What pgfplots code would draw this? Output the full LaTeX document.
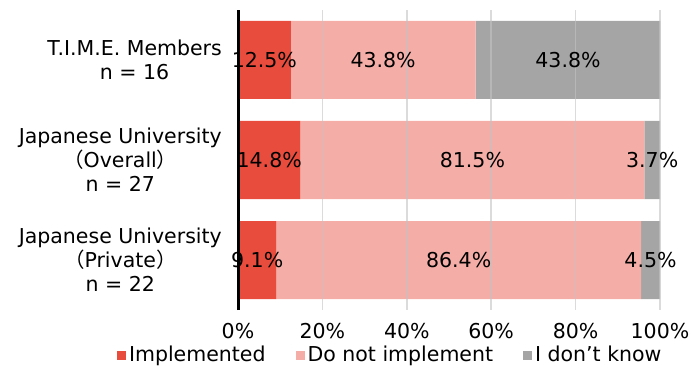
\documentclass[border=0pt]{standalone}
\usepackage{fontspec}
\setmainfont{DejaVu Sans}
\newfontfamily\cjk{Noto Sans CJK JP}
\usepackage{pgfplots}
\pgfplotsset{compat=1.18}
\usepackage{pgfplotstable}

\definecolor{impl}{HTML}{E84C3D}
\definecolor{notimpl}{HTML}{F4AEA7}
\definecolor{dunno}{HTML}{A5A5A5}
\definecolor{gridgray}{RGB}{195,195,195}

% share of respondents (%) per group
\pgfplotstableread{
pos impl notimpl dunno
2 12.5 43.8 43.8
1 14.8 81.5 3.7
0 9.1 86.4 4.5
}\survey
% middle of each stacked segment, where its value label goes
\pgfplotstablecreatecol[create col/expr={\thisrow{impl}/2}]{cimpl}\survey
\pgfplotstablecreatecol[create col/expr={\thisrow{impl}+\thisrow{notimpl}/2}]{cnotimpl}\survey
\pgfplotstablecreatecol[create col/expr={\thisrow{impl}+\thisrow{notimpl}+\thisrow{dunno}/2}]{cdunno}\survey

\newcommand{\lblfont}{\fontsize{20.5}{24}\selectfont}

\pgfplotsset{
  frame/.style={
    at={(238pt,57pt)}, anchor=south west,
    scale only axis, width=422pt, height=300pt,
    xmin=0, xmax=100, ymin=-0.5, ymax=2.5, clip=false},
  seglabels/.style={draw=none, mark=none,
    point meta=explicit symbolic,
    nodes near coords={\pgfplotspointmeta\%},
    every node near coord/.append style={anchor=center,
      font=\lblfont, text=black, inner sep=0pt}},
}

\begin{document}
\lblfont
\begin{tikzpicture}
\begin{axis}[
  frame,
  xbar stacked, bar width=78pt,
  xtick={0,20,40,60,80,100},
  xticklabels={0\%,20\%,40\%,60\%,80\%,100\%},
  ytick={0,1,2},
  yticklabels={
    {Japanese University\\{\cjk （}Private{\cjk ）}\\n = 22},
    {Japanese University\\{\cjk （}Overall{\cjk ）}\\n = 27},
    {T.I.M.E. Members\\n = 16}},
  yticklabel style={align=center, font=\lblfont, inner sep=0pt, xshift=-16pt},
  xticklabel style={font=\lblfont, inner sep=0pt, yshift=-13pt},
  major tick length=0pt,
  xmajorgrids,
  grid style={draw=gridgray, opacity=0.6, line width=1.5pt},
  axis line style={draw=none},
  axis on top,
  legend columns=3,
  legend image code/.code={
    \fill[#1] (0pt,-4.5pt) rectangle (9pt,4.5pt);
    \path (12pt,0pt);},
  legend style={at={(-0.2867,-0.15)}, anchor=west, draw=none,
    inner sep=0pt, outer sep=0pt, font=\lblfont,
    nodes={inner sep=0pt},
    /tikz/every even column/.append style={column sep=30pt}},
]
\addplot[fill=impl, draw=none] table[x=impl, y=pos] {\survey};
\addplot[fill=notimpl, draw=none] table[x=notimpl, y=pos] {\survey};
\addplot[fill=dunno, draw=none] table[x=dunno, y=pos] {\survey};
\legend{Implemented, Do not implement, I don’t know}
\end{axis}
% value labels, then the left axis line over them
\begin{axis}[frame, hide axis]
\addplot[seglabels] table[x=cimpl, y=pos, meta=impl] {\survey};
\addplot[seglabels] table[x=cnotimpl, y=pos, meta=notimpl] {\survey};
\addplot[seglabels] table[x=cdunno, y=pos, meta=dunno] {\survey};
\draw[black, line width=3pt] (axis cs:0,-0.5) -- (axis cs:0,2.5);
\end{axis}
\pgfresetboundingbox
\path[use as bounding box] (0pt,0pt) rectangle (692pt,367pt);
\end{tikzpicture}
\end{document}
